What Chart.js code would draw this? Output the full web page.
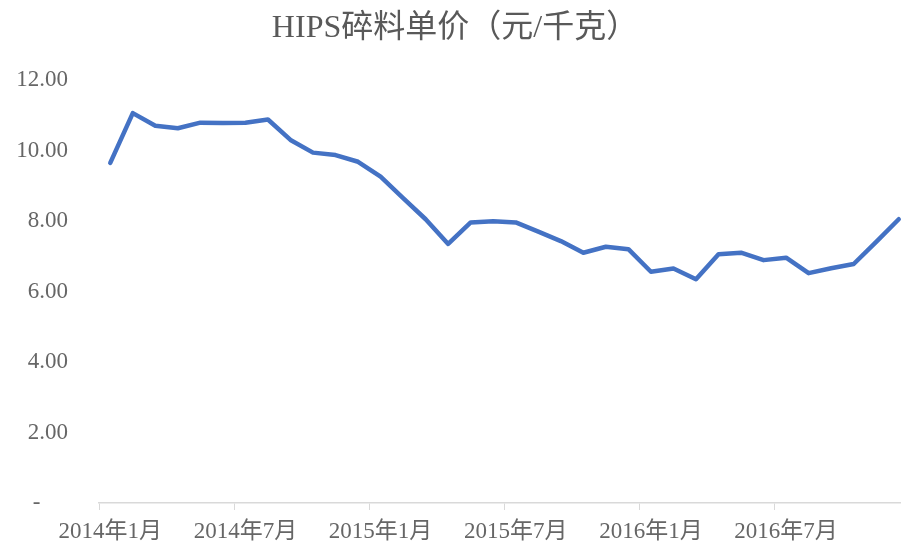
<!DOCTYPE html>
<html>
<head>
<meta charset="utf-8">
<script src="https://cdn.jsdelivr.net/npm/chart.js@4"></script>
<style>
	html, body { margin: 0; padding: 0; overflow: hidden; background: #fff; }
	#wrap { width: 901px; height: 543px; overflow: hidden; position: relative; }
	#chart { position: absolute; left: 0; top: 0; }
</style>
</head>
<body>
<div id="wrap"><canvas id="chart" width="910" height="543"></canvas></div>
<script>
const months = [
	'2014年1月', '2014年2月', '2014年3月', '2014年4月', '2014年5月', '2014年6月',
	'2014年7月', '2014年8月', '2014年9月', '2014年10月', '2014年11月', '2014年12月',
	'2015年1月', '2015年2月', '2015年3月', '2015年4月', '2015年5月', '2015年6月',
	'2015年7月', '2015年8月', '2015年9月', '2015年10月', '2015年11月', '2015年12月',
	'2016年1月', '2016年2月', '2016年3月', '2016年4月', '2016年5月', '2016年6月',
	'2016年7月', '2016年8月', '2016年9月', '2016年10月', '2016年11月', '2016年12月',
];

const prices = [
	9.65, 11.06, 10.70, 10.63, 10.79, 10.78,
	10.79, 10.88, 10.30, 9.94, 9.87, 9.68,
	9.26, 8.65, 8.05, 7.35, 7.96, 7.99,
	7.96, 7.70, 7.43, 7.10, 7.27, 7.20,
	6.56, 6.65, 6.35, 7.06, 7.10, 6.89,
	6.96, 6.52, 6.66, 6.78, 7.41, 8.05,
];

const shownMonths = ['2014年1月', '2014年7月', '2015年1月', '2015年7月', '2016年1月', '2016年7月'];

const fontFamily = '"Liberation Serif", "Noto Sans CJK SC", serif';

new Chart(document.getElementById('chart'), {
	type: 'line',
	data: {
		labels: months,
		datasets: [
			{
				data: prices,
				borderColor: '#4472C4',
				borderWidth: 4.5,
				pointRadius: 0,
				borderJoinStyle: 'round',
				borderCapStyle: 'round',
				tension: 0,
			},
		],
	},
	options: {
		responsive: false,
		animation: false,
		plugins: {
			legend: {display: false},
			tooltip: {enabled: false},
			title: {
				display: true,
				text: 'HIPS碎料单价（元/千克）',
				color: '#595959',
				font: {family: fontFamily, size: 32, weight: 'normal'},
				padding: {top: 9, bottom: 32.6},
			},
		},
		scales: {
			x: {
				offset: true,
				grid: {
					offset: true,
					drawOnChartArea: false,
					drawTicks: true,
					tickLength: 7,
					color: (ctx) => (ctx.index % 6 == 0 ? '#d9d9d9' : 'rgba(0,0,0,0)'),
				},
				border: {display: true, color: '#d9d9d9', width: 1.5},
				ticks: {
					autoSkip: false,
					maxRotation: 0,
					padding: 8,
					color: '#666666',
					font: {family: fontFamily, size: 23},
					callback: function(value, index) {
						let label = months[index];
						return shownMonths.includes(label) ? label : '';
					}
				},
				afterFit: (scale) => {
					scale.height = 40;
					scale.paddingTop = 0;
					scale.paddingBottom = 0;
				},
			},
			y: {
				min: 0,
				max: 12,
				grid: {display: false, drawTicks: false},
				border: {display: false},
				ticks: {
					stepSize: 2,
					padding: 31,
					color: '#666666',
					font: {family: fontFamily, size: 23},
					callback: function(value) {
						return value == 0 ? '-    \u2009' : value.toFixed(2);
					}
				},
				afterFit: (scale) => {
					scale.width = 99;
					scale.paddingTop = 0;
					scale.paddingBottom = 0;
				},
			},
		},
	},
});
</script>
</body>
</html>
